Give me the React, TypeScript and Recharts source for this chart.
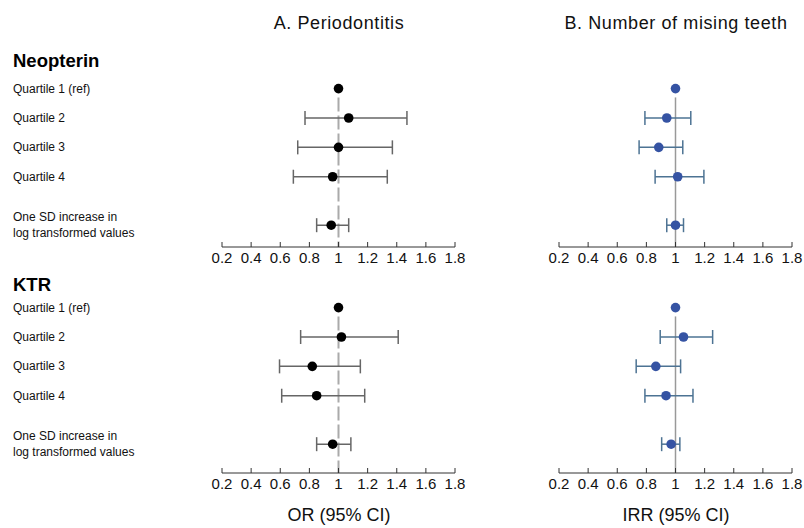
import React from "react";
import {
  ErrorBar,
  ReferenceLine,
  Scatter,
  ScatterChart,
  XAxis,
  YAxis,
} from "recharts";

// row labels and tick values
const ROW_LABELS = [
  "Quartile 1 (ref)",
  "Quartile 2",
  "Quartile 3",
  "Quartile 4",
  "One SD increase in\nlog transformed values",
];
const X_TICKS = [0.2, 0.4, 0.6, 0.8, 1, 1.2, 1.4, 1.6, 1.8];

// Neopterin
const NEO_OR = [1, 1.07, 1.0, 0.96, 0.95];
const NEO_OR_LO = [null, 0.77, 0.72, 0.69, 0.85];
const NEO_OR_HI = [null, 1.47, 1.37, 1.335, 1.07];
const NEO_IRR = [1, 0.94, 0.885, 1.015, 1.0];
const NEO_IRR_LO = [null, 0.79, 0.75, 0.86, 0.94];
const NEO_IRR_HI = [null, 1.105, 1.05, 1.195, 1.055];

// KTR
const KTR_OR = [1, 1.02, 0.82, 0.85, 0.96];
const KTR_OR_LO = [null, 0.74, 0.595, 0.61, 0.85];
const KTR_OR_HI = [null, 1.41, 1.15, 1.18, 1.085];
const KTR_IRR = [1, 1.055, 0.865, 0.935, 0.97];
const KTR_IRR_LO = [null, 0.895, 0.73, 0.79, 0.905];
const KTR_IRR_HI = [null, 1.255, 1.035, 1.12, 1.03];

const FONT = '"Liberation Sans", Arial, Helvetica, sans-serif';
const ROW_STEP = 29.3;
const PLOT_W = 233;
const AXIS_H = 30;

// the SD row sits a bit lower than the quartile rows
const rowPos = (i: number) => (i < 4 ? i : 4.65);

function buildRows(est: number[], lo: (number | null)[], hi: (number | null)[]) {
  return est.map((v, i) => ({
    row: rowPos(i),
    est: v,
    err: lo[i] == null ? null : [v - (lo[i] as number), (hi[i] as number) - v],
  }));
}

const XTick = (props: any) => {
  const { x, y, payload } = props;
  return (
    <g>
      <line x1={x} x2={x} y1={y - 5} y2={y} stroke="#333" />
      <text x={x} y={y + 16} textAnchor="middle" fontSize={15} fill="#111" fontFamily={FONT}>
        {payload.value}
      </text>
    </g>
  );
};

const RowLabel = (props: any) => {
  const { y, payload } = props;
  const idx = [0, 1, 2, 3, 4].find((i) => rowPos(i) === payload.value) ?? 0;
  const lines = ROW_LABELS[idx].split("\n");
  const off = lines.length > 1 ? -8 : 0;
  return (
    <text x={13} y={y + off} fontSize={12} fill="#111" fontFamily={FONT} dominantBaseline="central">
      {lines.map((l, k) => (
        <tspan key={k} x={13} dy={k === 0 ? 0 : 15.5}>
          {l}
        </tspan>
      ))}
    </text>
  );
};

interface PanelProps {
  data: ReturnType<typeof buildRows>;
  top: number;
  q1y: number;
  axisY: number;
  left: boolean;
}

function Panel({ data, top, q1y, axisY, left }: PanelProps) {
  const yMin = -0.6;
  const yMax = (axisY - q1y) / ROW_STEP;
  const plotH = axisY - top;
  const marginLeft = left ? 13 : 20;
  const yWidth = left ? 209 : 0;
  const width = marginLeft + yWidth + PLOT_W + 18;
  const dot = left ? "#000" : "#3553a3";
  const bar = left ? "#666" : "#4d7393";
  return (
    <div
      style={{
        position: "absolute",
        left: left ? 0 : 559 - marginLeft,
        top,
      }}
    >
      <ScatterChart
        width={width}
        height={plotH + AXIS_H}
        margin={{ top: 0, right: 18, bottom: 0, left: marginLeft }}
      >
        <XAxis
          type="number"
          dataKey="est"
          domain={[0.2, 1.8]}
          ticks={X_TICKS}
          interval={0}
          tickLine={false}
          tickSize={0}
          tickMargin={0}
          height={AXIS_H}
          axisLine={{ stroke: "#333" }}
          tick={<XTick />}
          allowDataOverflow
        />
        <YAxis
          type="number"
          dataKey="row"
          domain={[yMin, yMax]}
          reversed
          hide={!left}
          width={yWidth}
          ticks={data.map((d) => d.row)}
          interval={0}
          axisLine={false}
          tickLine={false}
          tick={<RowLabel />}
          allowDataOverflow
        />
        <ReferenceLine
          segment={[
            { x: 1, y: 0.3 },
            { x: 1, y: yMax },
          ]}
          stroke={left ? "#aaa" : "#999"}
          strokeWidth={left ? 2 : 1.5}
          strokeDasharray={left ? "14 4" : undefined}
        />
        <Scatter
          data={data}
          isAnimationActive={false}
          shape={(p: any) => <circle cx={p.cx} cy={p.cy} r={4.8} fill={dot} />}
        >
          <ErrorBar dataKey="err" direction="x" width={7} stroke={bar} strokeWidth={1.5} />
        </Scatter>
      </ScatterChart>
    </div>
  );
}

export default function App() {
  return (
    <div style={{ position: "relative", width: 804, height: 528, background: "#fff", fontFamily: FONT }}>
      <style>{"body{margin:0}"}</style>
      <Panel data={buildRows(NEO_OR, NEO_OR_LO, NEO_OR_HI)} top={71} q1y={89} axisY={247} left />
      <Panel data={buildRows(NEO_IRR, NEO_IRR_LO, NEO_IRR_HI)} top={71} q1y={89} axisY={247} left={false} />
      <Panel data={buildRows(KTR_OR, KTR_OR_LO, KTR_OR_HI)} top={290} q1y={308} axisY={473} left />
      <Panel data={buildRows(KTR_IRR, KTR_IRR_LO, KTR_IRR_HI)} top={290} q1y={308} axisY={473} left={false} />
      <svg
        width={804}
        height={528}
        style={{ position: "absolute", left: 0, top: 0, pointerEvents: "none" }}
        fontFamily={FONT}
      >
        <text x={339} y={29} textAnchor="middle" fontSize={18} letterSpacing={0.6} fill="#111">
          A. Periodontitis
        </text>
        <text x={676} y={29} textAnchor="middle" fontSize={18} letterSpacing={0.6} fill="#111">
          B. Number of mising teeth
        </text>
        <text x={13} y={67} fontSize={18.5} fontWeight="bold" fill="#000">
          Neopterin
        </text>
        <text x={13} y={291} fontSize={18.5} fontWeight="bold" fill="#000">
          KTR
        </text>
        <text x={339} y={521} textAnchor="middle" fontSize={18} fill="#111">
          OR (95% CI)
        </text>
        <text x={676} y={521} textAnchor="middle" fontSize={18} fill="#111">
          IRR (95% CI)
        </text>
      </svg>
    </div>
  );
}
